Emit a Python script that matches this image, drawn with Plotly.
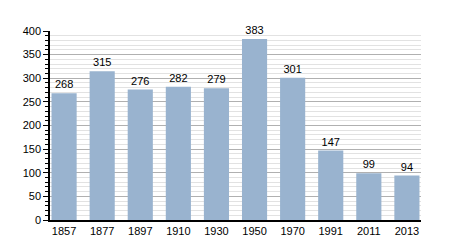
import plotly.graph_objects as go

years = ["1857", "1877", "1897", "1910", "1930", "1950", "1970", "1991", "2011", "2013"]
population = [268, 315, 276, 282, 279, 383, 301, 147, 99, 94]

fig = go.Figure(go.Bar(
    x=years, y=population,
    marker=dict(color="#99b3cf", line=dict(width=0)),
    text=[str(v) for v in population],
    textposition="outside",
    textfont=dict(color="black", size=11),
    cliponaxis=False,
))

fig.update_layout(
    width=450, height=250,
    margin=dict(l=50, r=29, t=31, b=30),
    paper_bgcolor="white", plot_bgcolor="white",
    font=dict(family="Liberation Sans, Arial, sans-serif", size=11, color="black"),
    bargap=0.34,
    showlegend=False,
)
fig.update_xaxes(
    type="category", range=[-0.37, 9.37],
    showline=True, linecolor="black", linewidth=1.5,
    ticks="", showgrid=False,
)
fig.update_yaxes(
    range=[0, 400], dtick=50,
    showline=True, linecolor="black", linewidth=1.5,
    ticks="outside", ticklen=5, tickcolor="black",
    showgrid=True, gridcolor="#b0b0b0", gridwidth=1,
    zeroline=False,
    minor=dict(dtick=10, showgrid=True, gridcolor="#e2e2e2", gridwidth=1,
               ticks="outside", ticklen=3, tickcolor="black"),
)

fig.write_html("out.html")
